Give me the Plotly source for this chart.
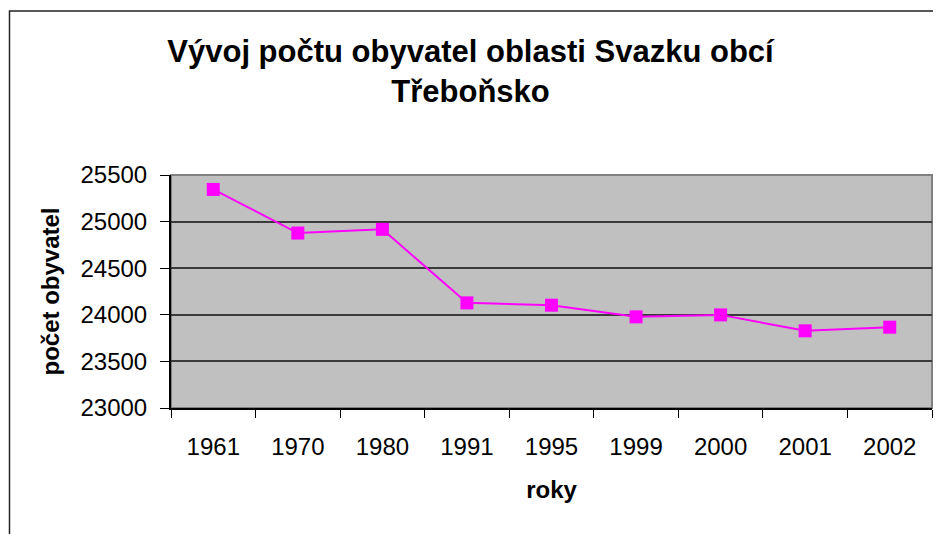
import plotly.graph_objects as go

years = ["1961", "1970", "1980", "1991", "1995", "1999", "2000", "2001", "2002"]
population = [25345, 24877, 24917, 24128, 24103, 23978, 23999, 23828, 23867]
y_ticks = [23000, 23500, 24000, 24500, 25000, 25500]

title_text = "<b>Vývoj počtu obyvatel oblasti Svazku obcí<br>Třeboňsko</b>"
x_title = "<b>roky</b>"
y_title = "<b>počet obyvatel</b>"

FONT = "Liberation Sans, Arial, sans-serif"

# page has an 8px body margin, so the figure is drawn 8px in from the window edge
OFF = 8
W, H = 941 - OFF, 534 - OFF
L, R, T, B = 171 - OFF, 9, 175 - OFF, 126
pw = W - L - R
ph = H - T - B

def px_to_paper_x(px):
    return (px - OFF - L) / pw

def px_to_paper_y(py):
    return (H - B - (py - OFF)) / ph

fig = go.Figure()
fig.add_trace(go.Scatter(
    x=years, y=population, mode="lines+markers",
    line=dict(color="#FF00FF", width=2),
    marker=dict(symbol="square", size=13, color="#FF00FF",
                line=dict(color="#FF00FF", width=0)),
    showlegend=False, hoverinfo="x+y",
))

fig.update_layout(
    width=W, height=H,
    margin=dict(l=L, r=R, t=T, b=B, autoexpand=False),
    paper_bgcolor="white",
    plot_bgcolor="#C0C0C0",
    font=dict(family=FONT, color="black", size=24),
    title=dict(
        text=title_text,
        font=dict(family=FONT, size=31, color="black"),
        x=(470.5 - OFF) / W, xanchor="center", xref="container",
        y=1 - 54 / H, yanchor="top", yref="container",
    ),
    xaxis=dict(
        type="category",
        range=[-0.5, 8.5],
        tickson="boundaries",
        ticks="outside", ticklen=8, tickcolor="black", tickwidth=1,
        ticklabelstandoff=16,
        showline=True, linecolor="black", linewidth=2,
        showgrid=False, zeroline=False,
        tickfont=dict(family=FONT, size=24, color="black"),
        title=dict(text=x_title, font=dict(family=FONT, size=24, color="black"),
                   standoff=22),
    ),
    yaxis=dict(
        range=[23000, 25500],
        tickvals=y_ticks,
        ticktext=[str(v) for v in y_ticks],
        ticks="outside", ticklen=9, tickcolor="black", tickwidth=1,
        ticklabelstandoff=8,
        showline=True, linecolor="black", linewidth=2,
        showgrid=True, gridcolor="#3a3a3a", gridwidth=1.5,
        zeroline=False,
        tickfont=dict(family=FONT, size=24, color="black"),
        title=dict(text=y_title, font=dict(family=FONT, size=24, color="black"),
                   standoff=14),
    ),
    shapes=[
        dict(type="rect", xref="paper", yref="paper", x0=0, x1=1, y0=0, y1=1,
             line=dict(color="#808080", width=2), layer="below"),
        dict(type="rect", xref="paper", yref="paper",
             x0=px_to_paper_x(OFF + 1.5), x1=px_to_paper_x(960),
             y0=px_to_paper_y(560), y1=px_to_paper_y(11),
             line=dict(color="#222222", width=1.5), layer="above"),
    ],
)

fig.write_html("out.html")
